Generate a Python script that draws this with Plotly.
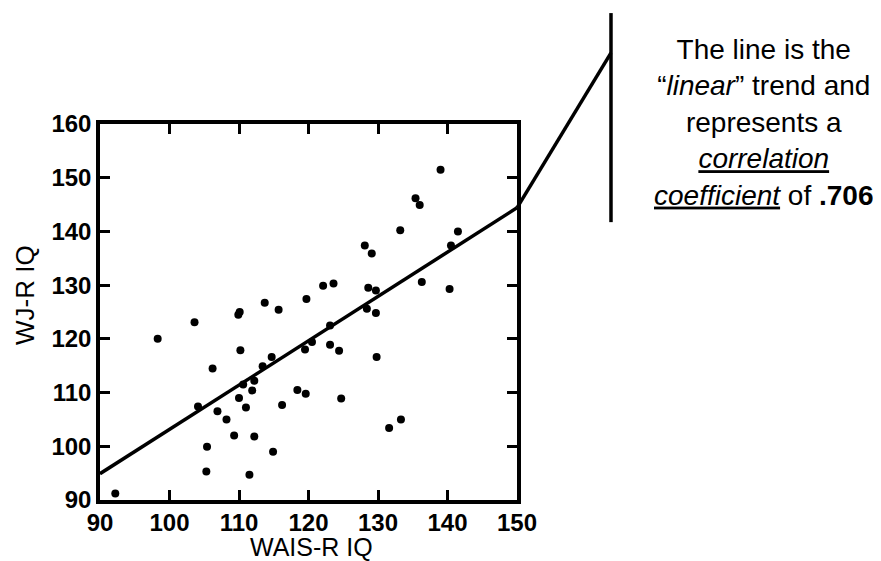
import plotly.graph_objects as go

# WAIS-R IQ (x) and WJ-R IQ (y)
wais_iq = [98.3, 103.6, 109.9, 110.1, 113.7, 115.7, 119.7, 110.2, 106.2, 113.4,
           114.7, 112.2, 111.9, 110.6, 110.0, 111.0, 104.1, 106.9, 108.2, 116.2,
           118.4, 119.6, 109.3, 112.2, 105.4, 114.9, 105.3, 111.5, 92.2, 119.5,
           120.5, 123.1, 123.1, 124.4, 128.4, 129.7, 129.8, 124.7, 131.6, 133.3,
           122.1, 123.6, 128.6, 129.7, 136.3, 140.3, 128.1, 129.1, 133.2, 135.4,
           136.0, 139.0, 141.5, 140.5]
wjr_iq = [120.0, 123.1, 124.5, 125.0, 126.7, 125.4, 127.4, 117.9, 114.5, 114.9,
          116.6, 112.2, 110.4, 111.5, 109.0, 107.2, 107.4, 106.5, 105.0, 107.7,
          110.5, 109.8, 102.0, 101.8, 99.9, 99.0, 95.3, 94.7, 91.2, 118.0,
          119.4, 122.5, 118.9, 117.8, 125.6, 124.8, 116.6, 108.9, 103.4, 105.0,
          129.9, 130.3, 129.5, 129.0, 130.6, 129.3, 137.4, 135.9, 140.2, 146.2,
          144.9, 151.5, 140.0, 137.4]

trend_x = [90, 150]
trend_y = [94.9, 144.4]

x_range = [90, 150]
y_range = [90, 160]
x_ticks = [90, 100, 110, 120, 130, 140, 150]
y_ticks = [90, 100, 110, 120, 130, 140, 150, 160]

x_title = "WAIS-R IQ"
y_title = "WJ-R IQ"

FONT = "Liberation Sans, Arial, sans-serif"

fig = go.Figure()
fig.add_trace(go.Scatter(x=wais_iq, y=wjr_iq, mode="markers",
                         marker=dict(color="black", size=8),
                         showlegend=False, cliponaxis=False))
fig.add_trace(go.Scatter(x=trend_x, y=trend_y, mode="lines",
                         line=dict(color="black", width=3.5),
                         showlegend=False))

axis_common = dict(showline=True, linecolor="black", linewidth=3.5,
                   mirror="ticks", ticks="inside", ticklen=10, tickwidth=3,
                   tickcolor="black", showgrid=False, zeroline=False,
                   automargin=False,
                   tickfont=dict(family=FONT, size=24, color="black", weight="bold"))

fig.update_xaxes(range=x_range, tickvals=x_ticks, ticktext=[str(v) for v in x_ticks],
                 ticklabelstandoff=-2, **axis_common)
fig.update_yaxes(range=y_range, tickvals=y_ticks, ticktext=[str(v) for v in y_ticks],
                 ticklabelstandoff=0, **axis_common)

# axis titles placed as annotations to match the reference position
fig.add_annotation(xref="paper", yref="paper", x=0.508, y=-0.126,
                   xanchor="center", yanchor="middle", showarrow=False,
                   text=x_title, font=dict(family=FONT, size=25, color="black"))
fig.add_annotation(xref="paper", yref="paper", x=-0.18, y=0.545,
                   xanchor="center", yanchor="middle", showarrow=False,
                   textangle=-90,
                   text=y_title, font=dict(family=FONT, size=26, color="black"))

end_y_paper = (trend_y[-1] - y_range[0]) / (y_range[1] - y_range[0])
fig.add_shape(type="line", xref="paper", yref="paper",
              x0=1.0, y0=end_y_paper, x1=1.2254, y1=1.189,
              line=dict(color="black", width=3.5))
fig.add_shape(type="line", xref="paper", yref="paper",
              x0=1.2254, y0=0.739, x1=1.2254, y1=1.295,
              line=dict(color="black", width=3.5))

fig.add_annotation(xref="paper", yref="paper", x=1.592, y=1.003,
                   xanchor="center", yanchor="middle", showarrow=False,
                   align="center",
                   text=("The line is the<br>“<i>linear</i>” trend and<br>represents a<br>"
                         "<u><i>correlation</i></u><br><u><i>coefficient</i></u> of <b>.706</b>"),
                   font=dict(family=FONT, size=28, color="black"))

fig.update_layout(width=881, height=561,
                  margin=dict(l=92, r=372, t=116, b=69),
                  paper_bgcolor="white", plot_bgcolor="white",
                  showlegend=False)

fig.write_html("out.html")
